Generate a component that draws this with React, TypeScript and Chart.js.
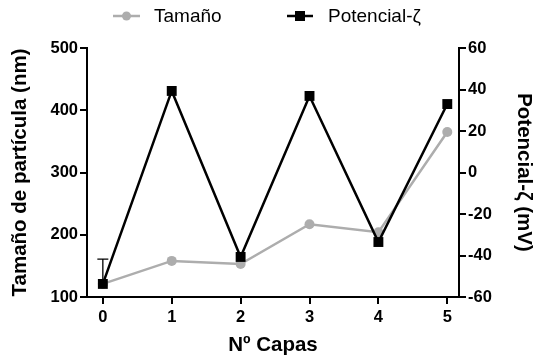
import React, { useEffect, useRef } from "react";
import { Chart, registerables } from "chart.js";

Chart.register(...registerables);

const capas = [0, 1, 2, 3, 4, 5];
const tamano = [121, 158, 153, 217, 204, 365];
const tamanoErr = [40, 0, 0, 0, 0, 0];
const potencial = [-53.7, 39.3, -40.7, 36.9, -33.5, 33];
const leftRange = [100, 500];
const rightRange = [-60, 60];
const xRange = [-0.23, 5.17];

const FONT = "'Liberation Sans', Arial, Helvetica, sans-serif";
const GREY = "#adadad";
const BLACK = "#000000";

const legendPlugin = {
  id: "customLegend",
  afterDraw(chart: any) {
    const ctx = chart.ctx;
    ctx.save();
    const y = 16;
    // Tamaño
    ctx.strokeStyle = GREY;
    ctx.lineWidth = 2.5;
    ctx.beginPath();
    ctx.moveTo(113, y);
    ctx.lineTo(140, y);
    ctx.stroke();
    ctx.fillStyle = GREY;
    ctx.beginPath();
    ctx.arc(126.5, y, 4.5, 0, Math.PI * 2);
    ctx.fill();
    // Potencial
    ctx.strokeStyle = BLACK;
    ctx.beginPath();
    ctx.moveTo(287, y);
    ctx.lineTo(313, y);
    ctx.stroke();
    ctx.fillStyle = BLACK;
    ctx.fillRect(295, y - 5, 10, 10);
    ctx.font = `19px ${FONT}`;
    ctx.textBaseline = "middle";
    ctx.textAlign = "left";
    ctx.fillStyle = BLACK;
    ctx.fillText("Tamaño", 154, y + 1);
    ctx.fillText("Potencial-ζ", 328, y + 1);
    ctx.restore();
  },
};

const errorBarPlugin = {
  id: "errorBars",
  afterDatasetsDraw(chart: any) {
    const ctx = chart.ctx;
    const xs = chart.scales.x;
    const ys = chart.scales.y;
    ctx.save();
    ctx.strokeStyle = BLACK;
    ctx.lineWidth = 1.3;
    tamano.forEach((v, i) => {
      const e = tamanoErr[i];
      if (!e) return;
      const px = xs.getPixelForValue(capas[i]);
      const y0 = ys.getPixelForValue(v);
      const y1 = ys.getPixelForValue(v + e);
      ctx.beginPath();
      ctx.moveTo(px, y0);
      ctx.lineTo(px, y1);
      ctx.moveTo(px - 5.5, y1);
      ctx.lineTo(px + 5.5, y1);
      ctx.stroke();
    });
    ctx.restore();
  },
};

function axisCommon(titleText: string, titlePad: number, tickPad: number) {
  return {
    ticks: {
      font: { family: FONT, size: 16.5, weight: "bold" as const },
      color: BLACK,
      padding: tickPad,
    },
    grid: {
      display: true,
      drawOnChartArea: false,
      drawTicks: true,
      tickLength: 7,
      color: BLACK,
      lineWidth: 2,
    },
    border: { display: true, color: BLACK, width: 2 },
    title: {
      display: true,
      text: titleText,
      font: { family: FONT, size: 20.5, weight: "bold" as const, lineHeight: 1.2 },
      color: BLACK,
      padding: { top: titlePad, bottom: 0 },
    },
  };
}

export default function App() {
  const canvasRef = useRef<HTMLCanvasElement | null>(null);

  useEffect(() => {
    document.body.style.margin = "0";
    const canvas = canvasRef.current;
    if (!canvas) return;
    const chart = new Chart(canvas, {
      type: "line",
      data: {
        datasets: [
          {
            label: "Potencial-ζ",
            data: capas.map((c, i) => ({ x: c, y: potencial[i] })),
            yAxisID: "y1",
            borderColor: BLACK,
            backgroundColor: BLACK,
            borderWidth: 2.5,
            pointStyle: "rect",
            pointRadius: 7,
            pointBorderWidth: 0,
            tension: 0,
            order: 0,
          },
          {
            label: "Tamaño",
            data: capas.map((c, i) => ({ x: c, y: tamano[i] })),
            yAxisID: "y",
            borderColor: GREY,
            backgroundColor: GREY,
            borderWidth: 2.5,
            pointStyle: "circle",
            pointRadius: 5,
            pointBorderWidth: 0,
            tension: 0,
            order: 1,
          },
        ],
      },
      options: {
        responsive: false,
        animation: false,
        devicePixelRatio: 1,
        layout: { padding: { top: 48, left: 0, right: 0, bottom: 0 } },
        plugins: {
          legend: { display: false },
          tooltip: { enabled: false },
        },
        scales: {
          x: {
            type: "linear",
            min: xRange[0],
            max: xRange[1],
            afterBuildTicks: (s: any) => {
              s.ticks = capas.map((v) => ({ value: v }));
            },
            afterFit: (s: any) => {
              s.height = 59;
            },
            ...axisCommon("Nº Capas", 0, 4),
            title: {
              display: true,
              text: "Nº Capas",
              font: { family: FONT, size: 20.5, weight: "bold", lineHeight: 1 },
              color: BLACK,
              padding: { top: 0, bottom: 0 },
            },
          },
          y: {
            type: "linear",
            position: "left",
            min: leftRange[0],
            max: leftRange[1],
            afterBuildTicks: (s: any) => {
              const t = [];
              for (let v = leftRange[0]; v <= leftRange[1]; v += 100) t.push({ value: v });
              s.ticks = t;
            },
            afterFit: (s: any) => {
              s.width = 87;
            },
            ...axisCommon("Tamaño de partícula (nm)", 8, 2),
          },
          y1: {
            type: "linear",
            position: "right",
            min: rightRange[0],
            max: rightRange[1],
            afterBuildTicks: (s: any) => {
              const t = [];
              for (let v = rightRange[0]; v <= rightRange[1]; v += 20) t.push({ value: v });
              s.ticks = t;
            },
            afterFit: (s: any) => {
              s.width = 77;
            },
            ...axisCommon("Potencial-ζ (mV)", 0, 2),
          },
        },
      },
      plugins: [errorBarPlugin, legendPlugin],
    } as any);
    return () => chart.destroy();
  }, []);

  return (
    <div style={{ width: 536, height: 356 }}>
      <canvas ref={canvasRef} width={536} height={356} />
    </div>
  );
}
